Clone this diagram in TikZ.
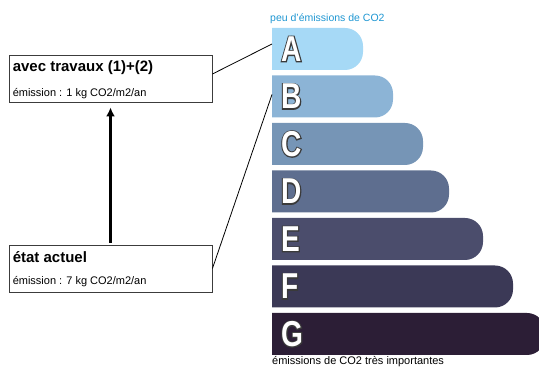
\documentclass[tikz,border=0pt]{standalone}
\usepackage{fontspec}
\setmainfont{Liberation Sans}
\newfontfamily\gradefont[FakeStretch=0.78]{Liberation Sans Bold}
\newfontfamily\gradeedgefont[FakeStretch=0.78, FakeBold=6]{Liberation Sans Bold}
\usetikzlibrary{arrows.meta, positioning}
\definecolor{gradeA}{HTML}{A6D9F6}
\definecolor{gradeB}{HTML}{8CB4D6}
\definecolor{gradeC}{HTML}{7695B6}
\definecolor{gradeD}{HTML}{5E6E8F}
\definecolor{gradeE}{HTML}{4B4D6C}
\definecolor{gradeF}{HTML}{3B3956}
\definecolor{gradeG}{HTML}{2C1E36}
\definecolor{titleblue}{HTML}{1E96D2}
\definecolor{boxline}{HTML}{3C3C3C}
\definecolor{letteredge}{HTML}{3A3A3A}

\begin{document}
\begin{tikzpicture}[x=1pt, y=1pt,
    statebox/.style={draw=boxline, line width=0.9pt, minimum width=203pt, minimum height=47pt, inner sep=0pt},
    boxtitle/.style={anchor=base west, inner sep=0pt, font=\bfseries\fontsize{15}{18}\selectfont},
    boxtext/.style={anchor=base west, inner sep=0pt, font=\fontsize{11}{13}\selectfont},
    grade/.style={anchor=west, inner sep=0pt, text=white, font=\gradefont\fontsize{36}{40}\selectfont},
    gradeedge/.style={anchor=west, inner sep=0pt, text=letteredge, font=\gradeedgefont\fontsize{36}{40}\selectfont}]
    \useasboundingbox (0,0) rectangle (539,374);

    % Classes A to G
    \foreach \lt/\xr/\yt in {A/363/346, B/393/298.5, C/423/251, D/449/203.5, E/483/156, F/513/108.5, G/545/61}{
        \fill[grade\lt] (272,\yt) -- (\xr-18,\yt) arc (90:0:18) -- (\xr,\yt-24) arc (0:-90:18) -- (272,\yt-42) -- cycle;
        \coordinate (bar\lt) at (272,\yt-21);
        \node[gradeedge] (edge\lt) at (281,\yt-21) {\lt};
        \node[grade] (lbl\lt) at (281,\yt-21) {\lt};
    }

    % Scale captions
    \node[anchor=base west, inner sep=0pt, text=titleblue, font=\fontsize{10.5}{12}\selectfont] (lowcap) at (270,352.3) {peu d'émissions de CO2};
    \node[anchor=base west, inner sep=0pt, font=\fontsize{11}{13}\selectfont] (highcap) at (272,9) {émissions de CO2 très importantes};

    % After works
    \node[statebox] (after) at (110.5,295.5) {};
    \node[boxtitle] (aftertitle) at ([xshift=4pt,yshift=-16.7pt]after.north west) {avec travaux (1)+(2)};
    \node[boxtext] (aftertext) at ([xshift=4pt,yshift=-42pt]after.north west) {émission : 1 kg CO2/m2/an};

    % Current state
    \node[statebox] (before) at (110.5,105.5) {};
    \node[boxtitle] (beforetitle) at ([xshift=4pt,yshift=-18pt]before.north west) {état actuel};
    \node[boxtext] (beforetext) at ([xshift=4pt,yshift=-40pt]before.north west) {émission : 7 kg CO2/m2/an};

    % Connectors
    \draw[-{Latex[length=9pt,width=9pt]}, line width=3.4pt, shorten >=5pt, shorten <=2pt] (before.north) -- (after.south);
    \draw[line width=0.8pt] ([yshift=4.5pt]after.east) -- ([yshift=5pt]barA);
    \draw[line width=0.8pt] (before.east) -- ([yshift=2pt]barB);
\end{tikzpicture}
\end{document}
